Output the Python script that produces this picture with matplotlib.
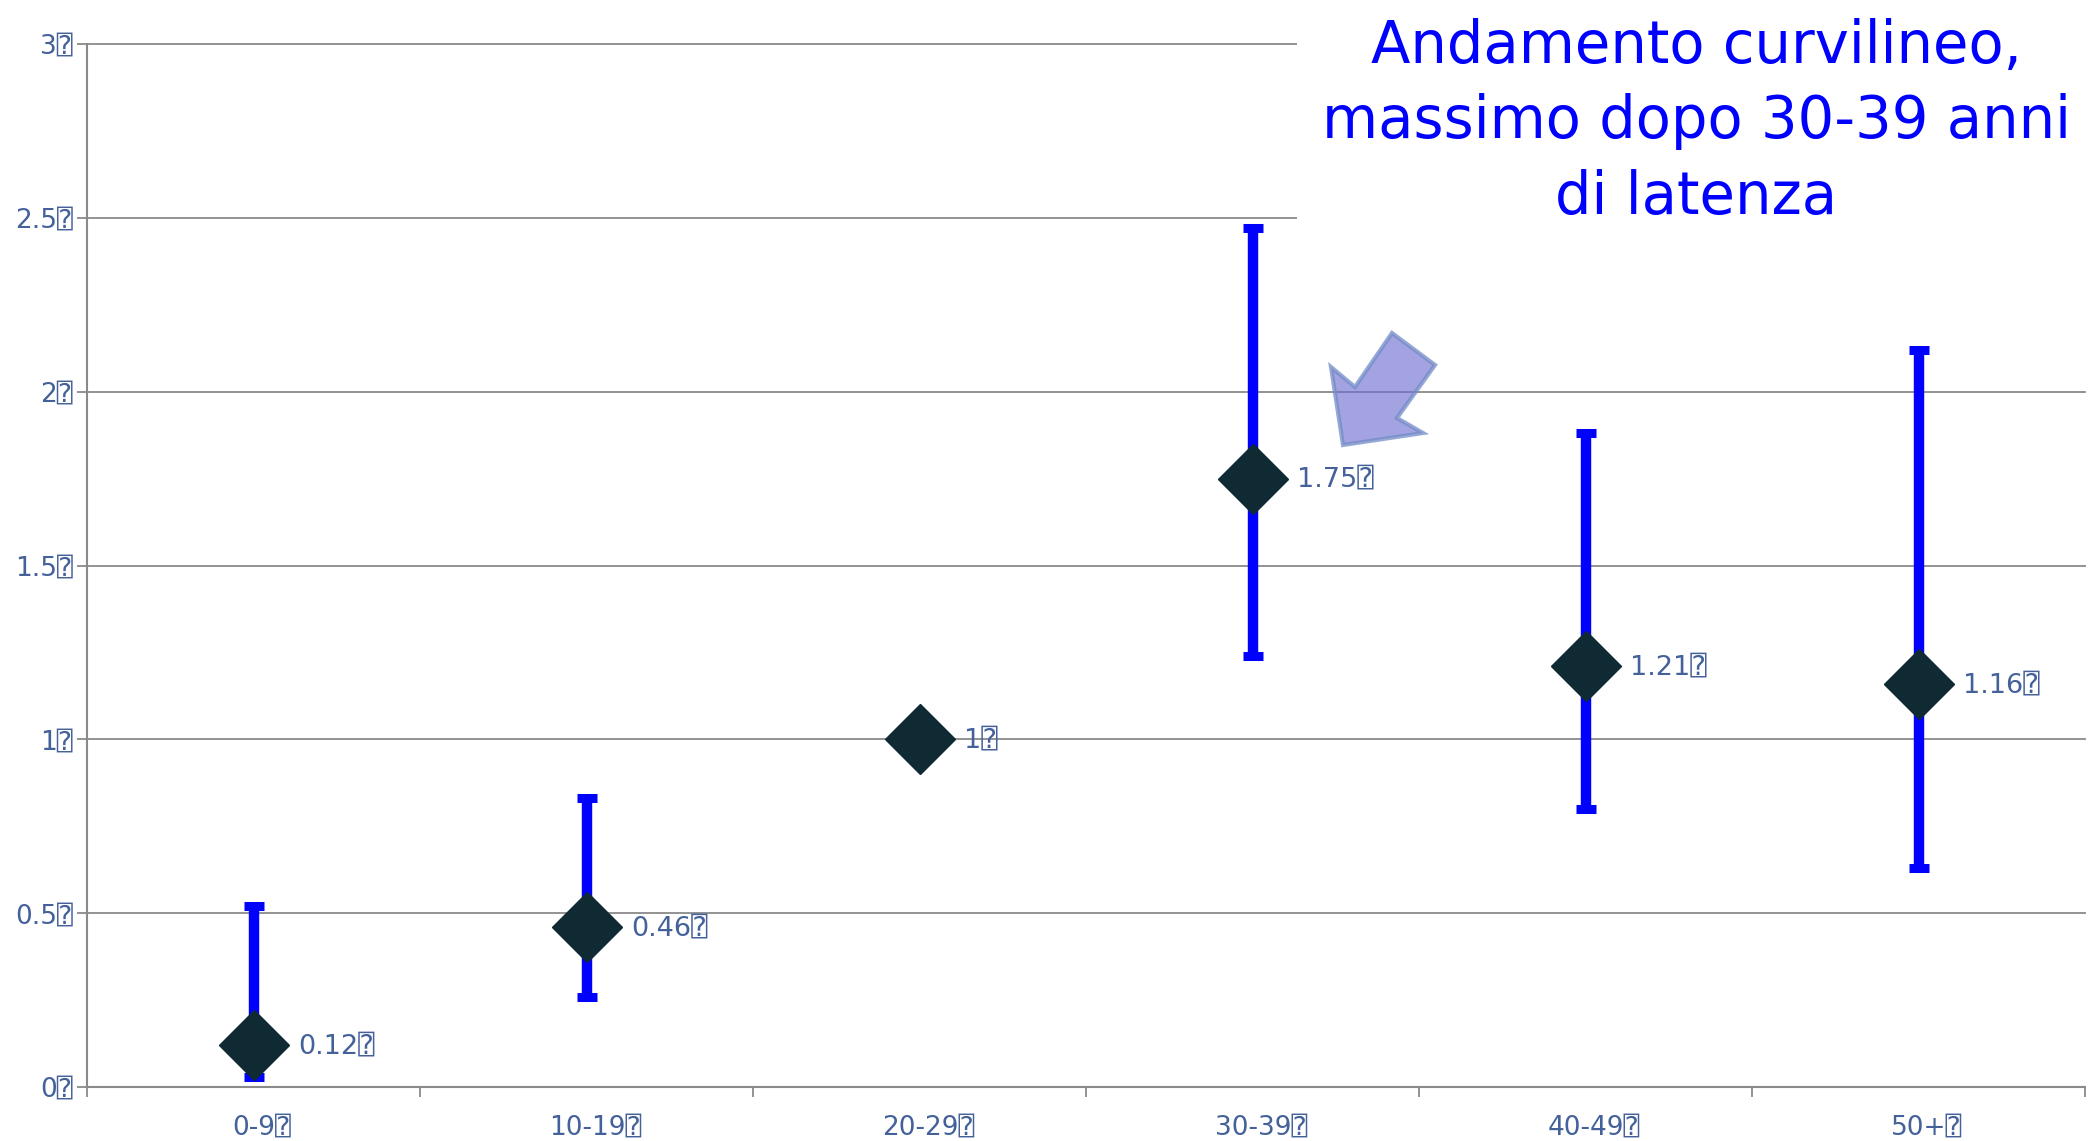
import matplotlib
matplotlib.use("Agg")
import matplotlib.pyplot as plt
from matplotlib.patches import Polygon, Rectangle
import numpy as np

categories = ["0-9", "10-19", "20-29", "30-39", "40-49", "50+"]
values = [0.12, 0.46, 1.0, 1.75, 1.21, 1.16]
ci_low = [0.03, 0.26, 1.0, 1.24, 0.80, 0.63]
ci_high = [0.52, 0.83, 1.0, 2.47, 1.88, 2.12]
value_labels = ["0.12", "0.46", "1", "1.75", "1.21", "1.16"]
ytick_vals = [0, 0.5, 1, 1.5, 2, 2.5, 3]
ytick_labels = ["0", "0.5", "1", "1.5", "2", "2.5", "3"]
BOX = "\u2370"
note = "Andamento curvilineo,\nmassimo dopo 30-39 anni\ndi latenza"

W, H = 2096, 1141
fig = plt.figure(figsize=(W / 100, H / 100), dpi=100)
L, R, B, T = 87, 2085, 1087, 44
ax = fig.add_axes([L / W, 1 - B / H, (R - L) / W, (B - T) / H])

lab_col = "#44619A"
grid_col = "#8a8a8a"
fam = ["DejaVu Sans", "DejaVu Sans Mono", "Noto Sans"]

x = np.arange(len(categories))
v = np.array(values)
lo = v - np.array(ci_low)
hi = np.array(ci_high) - v
has_err = (lo > 0) | (hi > 0)
ax.errorbar(x[has_err], v[has_err], yerr=[lo[has_err], hi[has_err]], fmt="none",
            ecolor="#0000FF", elinewidth=7.5, capsize=7, capthick=6.5, zorder=3)
ax.plot(x, v, linestyle="none", marker="D", markersize=36, color="#0F2A33",
        markeredgecolor="#0F2A33", zorder=4)
for xi, yi, t in zip(x, v, value_labels):
    ax.annotate(t + BOX, (xi, yi), xytext=(32, -1), textcoords="offset points",
                va="center", ha="left", fontsize=19.5, color=lab_col, family=fam, zorder=5)

ax.set_xlim(-0.5, len(categories) - 0.5)
ax.set_ylim(0, 3)
ax.set_yticks(ytick_vals)
ax.set_yticklabels([t + BOX for t in ytick_labels], family=fam)
ax.set_xticks(x + 0.025)
ax.set_xticklabels([c + BOX for c in categories], family=fam)
ax.set_xticks(np.arange(len(categories) + 1) - 0.5, minor=True)
ax.tick_params(axis="x", which="major", length=0, pad=20, labelsize=19, labelcolor=lab_col)
ax.tick_params(axis="x", which="minor", length=7, width=1.3, color=grid_col, direction="out")
ax.tick_params(axis="y", length=7, width=1.3, color=grid_col, pad=3, labelsize=19, labelcolor=lab_col)
ax.grid(axis="y", color=grid_col, linewidth=1.3, zorder=0)
for gl in ax.get_ygridlines():
    gl.set_clip_on(False)
ax.set_axisbelow(True)
for s in ["top", "right"]:
    ax.spines[s].set_visible(False)
for s in ["left", "bottom"]:
    ax.spines[s].set_color(grid_col)
    ax.spines[s].set_linewidth(1.5)

def fc(px, py):
    return (px / W, 1 - py / H)

fig.patches.append(Rectangle(fc(1297, 250), (W - 1297) / W, 250 / H,
                             transform=fig.transFigure, facecolor="white",
                             edgecolor="none", zorder=2))
arrow_pts = [(1392, 333), (1435, 365), (1397, 418), (1423, 433),
             (1343, 445), (1331, 367), (1355, 387)]
fig.patches.append(Polygon([fc(*p) for p in arrow_pts], closed=True,
                           transform=fig.transFigure,
                           facecolor=(0.42, 0.42, 0.82, 0.62),
                           edgecolor=(0.45, 0.55, 0.78, 0.75), linewidth=3, zorder=3))
fig.text(1696 / W, 1 - 122 / H, note, ha="center", va="center", fontsize=41.5,
         color="#0000FF", linespacing=1.42, zorder=4, family=fam)

fig.savefig("out.png", dpi=100)
